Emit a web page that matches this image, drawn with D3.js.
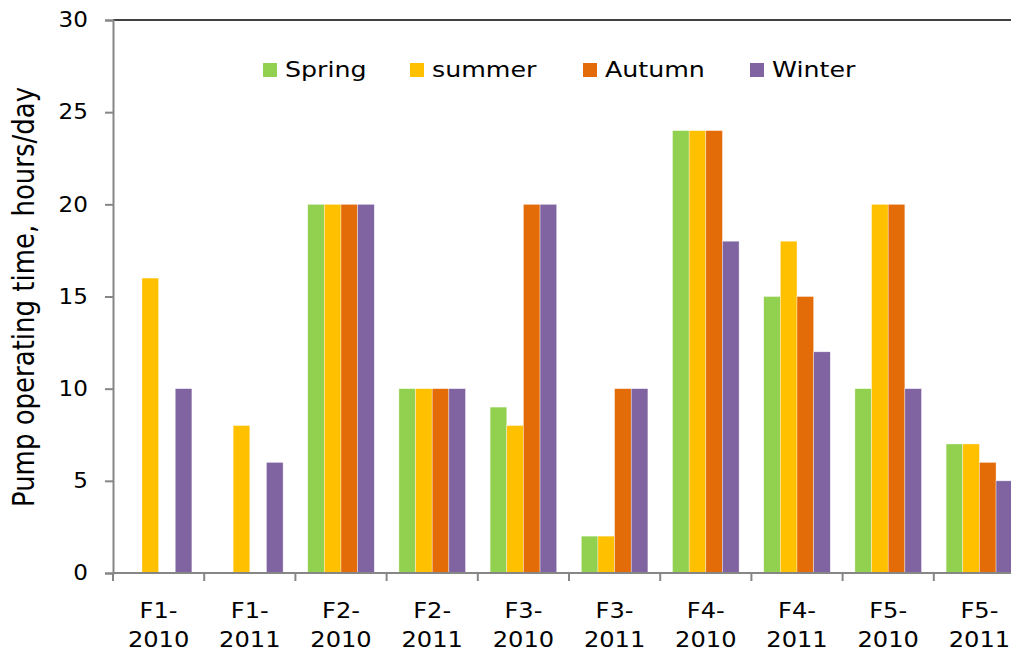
<!DOCTYPE html>
<html><head><meta charset="utf-8">
<script src="https://cdn.jsdelivr.net/npm/d3@7"></script>
<style>body{margin:0;background:#fff}svg{display:block}text{font-family:"DejaVu Sans",Verdana,sans-serif;fill:#000}</style>
</head><body><svg id="c" width="1011" height="652"></svg>
<script>
const categories = ["F1-2010","F1-2011","F2-2010","F2-2011","F3-2010","F3-2011","F4-2010","F4-2011","F5-2010","F5-2011"];
const seriesNames = ["Spring","summer","Autumn","Winter"];
const spring = [0,0,20,10,9,2,24,15,10,7];
const summer = [16,8,20,10,8,2,24,18,20,7];
const autumn = [0,0,20,10,20,10,24,15,20,6];
const winter = [10,6,20,10,20,10,18,12,10,5];
const yTicks = [0,5,10,15,20,25,30];
const colors = ["#92D050","#FFC000","#E36C09","#8064A2"];
const seriesValues = [spring, summer, autumn, winter];

(function(){
const svg = d3.select("#c");
const pL = 113, pR = 1025, pT = 20, pB = 573;
const x = d3.scaleBand().domain(categories).range([pL, pR]).paddingInner(0.27).paddingOuter(0.135);
const xs = d3.scaleBand().domain(seriesNames).range([0, x.bandwidth()]);
const y = d3.scaleLinear().domain([0,30]).range([pB, pT]);

svg.append("line").attr("x1", pL).attr("x2", 1011).attr("y1", pT).attr("y2", pT).attr("stroke", "#000").attr("stroke-width", 1.5);

seriesNames.forEach((s, si) => {
  svg.append("g").selectAll("rect").data(categories.map((c, i) => ({c, v: seriesValues[si][i]})).filter(d => d.v > 0))
    .join("rect")
    .attr("x", d => x(d.c) + xs(s))
    .attr("width", xs.bandwidth())
    .attr("y", d => y(d.v))
    .attr("height", d => y(0) - y(d.v))
    .attr("fill", colors[si])
    .attr("stroke", "rgba(255,255,255,0.6)").attr("stroke-width", 0.6);
});

const ySX = 1.1;
const ya = svg.append("g").attr("transform", `translate(${pL},0)`)
  .call(d3.axisLeft(y).tickValues(yTicks).tickSize(8).tickPadding(17));
ya.select(".domain").attr("stroke", "#868686").attr("stroke-width", 2);
ya.selectAll(".tick line").attr("stroke", "#868686").attr("stroke-width", 2);
ya.selectAll(".tick text").style("font-size", "21px").style("fill", "#000").attr("font-family", null)
  .attr("x", -25 / ySX).attr("transform", `scale(${ySX},1)`);

const xSX = 1.15;
const xa = svg.append("g").attr("transform", `translate(0,${pB})`);
xa.append("line").attr("x1", pL).attr("x2", 1011).attr("stroke", "#868686").attr("stroke-width", 2);
const bounds = d3.range(categories.length + 1).map(i => pL + i * x.step());
xa.selectAll("line.tk").data(bounds).join("line").attr("class", "tk")
  .attr("x1", d => d).attr("x2", d => d).attr("y1", 0).attr("y2", 8)
  .attr("stroke", "#868686").attr("stroke-width", 2);
const lbl = xa.selectAll("text.cl").data(categories).join("text").attr("class", "cl")
  .attr("text-anchor", "middle").style("font-size", "21px")
  .attr("transform", d => `translate(${x(d) + x.bandwidth()/2},0) scale(${xSX},1)`);
lbl.append("tspan").attr("x", 0).attr("y", 45).text(d => d.split("-")[0] + "-");
lbl.append("tspan").attr("x", 0).attr("y", 74).text(d => d.split("-")[1]);

svg.append("text").attr("transform", `translate(34,297) scale(1.15,1) rotate(-90)`).attr("text-anchor", "middle")
  .style("font-size", "26px").text("Pump operating time, hours/day");

const legX = [263, 410, 583, 750];
const lg = svg.append("g").selectAll("g").data(seriesNames).join("g")
  .attr("transform", (d, i) => `translate(${legX[i]},63)`);
lg.append("rect").attr("width", 14).attr("height", 14).attr("fill", (d, i) => colors[i]);
lg.append("text").attr("transform", `translate(22,14) scale(1.15,1)`).style("font-size", "22px").text(d => d);
})();
</script></body></html>
